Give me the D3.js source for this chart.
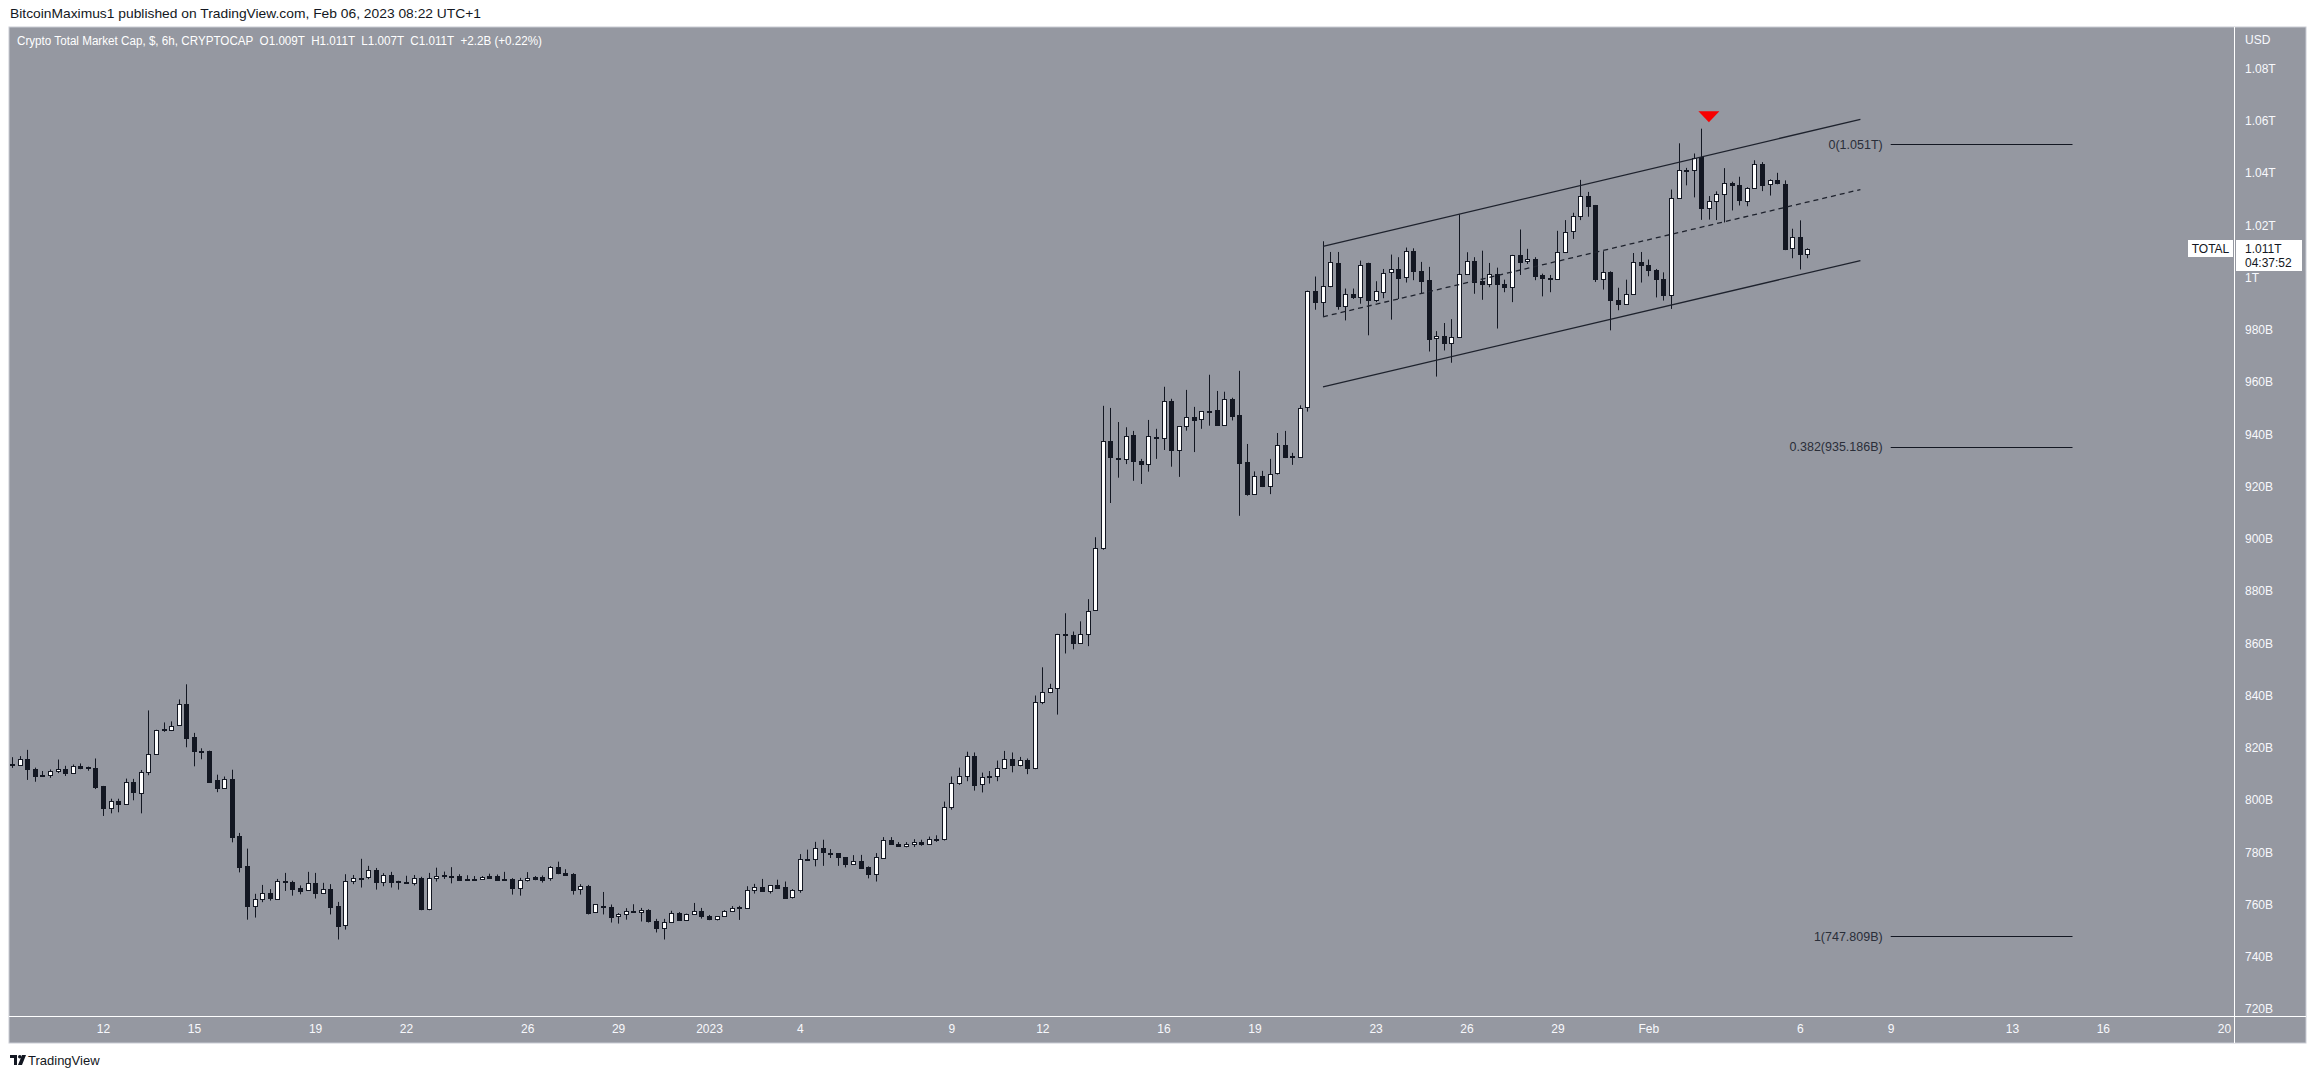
<!DOCTYPE html>
<html>
<head>
<meta charset="utf-8">
<script src="https://cdn.jsdelivr.net/npm/d3@7"></script>
<style>
  body { margin: 0; background: #ffffff; }
  svg text { font-family: "Liberation Sans", Arial, sans-serif; }
</style>
</head>
<body>
<div id="chart"></div>
<script>
// 6h candles, O H L C in billions of USD, first one Dec 9 2022 00:00 UTC
const candles = [
  [813.8, 816.4, 812.3, 813.3], [813.4, 816.8, 813.1, 815.7], [815.7, 819.2, 807.7, 811.9], [811.9, 812.4, 807.0, 809.2],
  [809.6, 811.1, 809.2, 809.4], [809.6, 811.7, 808.5, 811.0], [811.1, 815.5, 810.3, 811.9], [812.0, 813.1, 809.2, 810.3],
  [810.4, 813.6, 810.0, 813.2], [813.2, 814.0, 811.8, 812.3], [812.5, 812.8, 811.2, 812.3], [812.4, 815.9, 804.2, 805.3],
  [805.4, 805.4, 793.9, 796.9], [797.1, 800.5, 794.9, 799.6], [799.6, 800.5, 795.3, 798.5], [798.5, 808.2, 798.5, 807.0],
  [807.0, 808.1, 799.9, 803.0], [802.7, 811.5, 794.9, 810.8], [810.8, 834.3, 809.5, 817.7], [817.7, 826.9, 817.7, 826.9],
  [826.9, 829.7, 826.1, 827.0], [826.7, 830.1, 826.4, 828.4], [828.4, 838.5, 828.4, 836.6], [836.6, 844.3, 820.2, 823.7],
  [824.2, 825.7, 812.9, 818.8], [818.8, 819.8, 815.6, 818.7], [818.9, 818.9, 806.8, 807.2], [807.8, 809.7, 803.0, 804.9],
  [804.9, 809.0, 804.5, 808.2], [808.2, 811.6, 783.8, 786.1], [786.3, 787.4, 772.3, 774.6], [774.7, 781.4, 754.2, 759.2],
  [759.4, 764.1, 755.0, 762.0], [761.9, 767.5, 760.9, 764.3], [764.3, 765.9, 761.5, 762.3], [762.4, 769.8, 761.9, 769.1],
  [769.0, 772.1, 765.2, 768.8], [768.7, 769.1, 763.4, 766.1], [766.4, 767.3, 763.9, 765.2], [765.5, 772.5, 765.2, 768.2],
  [768.3, 772.1, 762.3, 764.3], [764.3, 768.3, 764.1, 765.9], [765.9, 767.8, 756.2, 759.2], [759.5, 761.0, 746.6, 751.9],
  [751.9, 771.6, 750.4, 768.9], [768.9, 771.3, 767.8, 770.0], [770.0, 777.5, 766.5, 770.1], [770.5, 774.8, 769.7, 773.2],
  [773.2, 774.0, 765.7, 768.6], [768.6, 772.0, 767.0, 771.3], [771.3, 772.5, 766.5, 768.6], [768.9, 769.1, 765.7, 768.8],
  [768.6, 771.0, 768.2, 768.2], [768.2, 771.3, 767.3, 770.1], [770.1, 770.6, 757.8, 758.1], [758.2, 772.1, 757.8, 770.1],
  [770.5, 774.1, 768.8, 771.1], [771.1, 772.6, 769.8, 771.2], [771.1, 774.3, 768.1, 771.0], [770.9, 771.6, 769.1, 769.3],
  [769.8, 771.2, 769.1, 769.3], [769.6, 770.9, 769.3, 769.7], [769.7, 770.9, 769.6, 770.6], [771.0, 771.8, 770.0, 770.2],
  [771.1, 771.5, 769.3, 769.6], [769.7, 772.5, 769.3, 769.6], [769.8, 770.1, 763.8, 766.3], [766.3, 770.2, 763.4, 769.5],
  [769.3, 772.4, 768.8, 770.1], [770.5, 770.9, 769.3, 769.8], [770.6, 771.1, 768.4, 769.6], [770.1, 774.7, 769.1, 774.3],
  [774.3, 776.4, 771.6, 771.9], [772.0, 773.5, 771.2, 771.4], [771.8, 772.0, 763.8, 765.7], [765.7, 767.8, 763.8, 767.0],
  [767.0, 767.5, 756.2, 756.8], [757.1, 760.1, 757.1, 760.1], [759.6, 764.8, 756.2, 759.5], [759.1, 760.0, 753.1, 755.4],
  [755.5, 756.7, 752.7, 756.3], [756.3, 758.6, 754.2, 757.4], [757.4, 760.1, 756.9, 757.2], [756.9, 758.7, 753.5, 757.8],
  [757.8, 758.2, 753.1, 753.5], [753.6, 754.5, 749.3, 750.8], [750.9, 754.5, 746.6, 753.2], [753.2, 757.6, 753.2, 756.7],
  [756.7, 757.1, 754.0, 754.0], [754.0, 756.5, 754.0, 756.3], [756.3, 760.6, 756.3, 757.4], [757.4, 758.7, 754.6, 755.4],
  [755.6, 756.0, 754.0, 754.4], [754.4, 755.5, 753.9, 755.5], [755.5, 757.8, 755.5, 757.4], [757.4, 759.4, 757.4, 758.6],
  [759.1, 759.5, 754.1, 758.7], [758.8, 767.0, 758.4, 765.5], [765.5, 767.9, 764.2, 766.6], [766.6, 769.8, 765.0, 765.0],
  [765.1, 767.4, 764.2, 767.4], [767.4, 769.5, 766.0, 766.4], [766.8, 768.8, 762.3, 762.7], [762.7, 765.9, 762.3, 765.5],
  [765.5, 779.3, 764.5, 777.3], [777.3, 781.0, 776.7, 777.4], [777.3, 784.0, 774.6, 781.5], [781.5, 784.8, 774.8, 779.9],
  [779.9, 781.2, 777.8, 779.8], [779.7, 779.7, 774.8, 778.0], [778.1, 778.1, 774.2, 775.3], [775.3, 778.9, 775.3, 776.5],
  [776.7, 779.0, 773.8, 774.1], [774.3, 774.6, 770.0, 771.5], [771.5, 779.7, 768.8, 778.0], [778.0, 785.8, 778.0, 784.7],
  [784.7, 785.8, 783.0, 783.0], [783.1, 783.9, 782.2, 782.2], [782.2, 783.9, 781.9, 783.1], [783.1, 785.0, 782.0, 783.8],
  [783.8, 784.8, 782.5, 783.2], [783.2, 786.0, 782.8, 785.0], [785.0, 786.5, 784.0, 785.2], [785.2, 799.4, 784.5, 797.3],
  [797.2, 809.0, 796.3, 806.5], [806.4, 812.4, 805.8, 809.2], [809.2, 818.5, 807.2, 817.0], [817.0, 818.2, 803.6, 806.0],
  [806.0, 810.5, 802.9, 808.8], [809.0, 811.1, 806.3, 809.1], [809.1, 815.1, 807.2, 812.3], [812.3, 818.8, 812.3, 815.7],
  [815.7, 818.2, 810.6, 813.3], [813.3, 816.5, 812.9, 815.3], [815.3, 815.9, 809.9, 812.2], [812.3, 840.0, 811.8, 837.6],
  [837.5, 850.8, 836.7, 841.3], [841.3, 844.5, 840.9, 842.9], [842.9, 863.6, 832.7, 863.6], [863.5, 871.5, 856.1, 863.4],
  [863.3, 864.5, 857.7, 860.1], [860.1, 868.4, 860.1, 863.6], [863.6, 876.9, 858.9, 872.5], [872.5, 900.6, 872.5, 896.3],
  [896.2, 950.9, 895.8, 937.3], [937.3, 950.1, 913.7, 931.0], [930.9, 944.7, 923.4, 930.8], [930.7, 942.7, 928.6, 939.5],
  [939.6, 941.3, 922.2, 929.5], [929.7, 930.6, 921.0, 928.4], [928.5, 945.5, 925.7, 939.2], [939.0, 942.1, 930.6, 938.9],
  [938.4, 958.2, 934.0, 952.7], [952.7, 953.6, 927.6, 933.8], [933.9, 943.1, 923.7, 943.1], [943.1, 957.0, 941.4, 946.5],
  [946.5, 950.5, 933.2, 945.4], [945.6, 948.8, 942.1, 948.8], [948.9, 962.8, 943.3, 948.8], [949.2, 956.6, 943.3, 943.3],
  [943.3, 956.3, 943.3, 953.4], [953.6, 954.0, 945.3, 947.2], [947.3, 964.3, 908.8, 929.1], [929.3, 936.3, 916.5, 916.9],
  [917.0, 925.8, 916.8, 923.9], [923.9, 926.0, 919.8, 920.2], [920.3, 930.6, 917.1, 924.9], [924.9, 940.5, 924.6, 935.8],
  [935.8, 941.3, 930.9, 931.3], [931.5, 932.9, 928.3, 931.6], [931.6, 951.1, 931.3, 950.2], [950.2, 995.0, 948.7, 994.7],
  [994.7, 1000.4, 987.7, 990.6], [990.6, 1013.9, 985.2, 996.7], [996.7, 1009.8, 996.3, 1005.9], [1005.6, 1009.8, 987.7, 989.0],
  [989.0, 995.8, 983.6, 993.6], [993.7, 995.8, 991.8, 992.4], [992.6, 1006.5, 990.0, 1004.9], [1005.4, 1005.7, 977.9, 991.3],
  [991.4, 998.6, 990.6, 994.7], [994.7, 1003.3, 992.1, 1001.8], [1002.2, 1008.8, 983.9, 1003.2], [1003.4, 1007.8, 991.8, 1000.1],
  [1000.2, 1011.5, 998.1, 1010.2], [1010.2, 1011.2, 999.0, 1002.4], [1002.4, 1006.0, 993.8, 998.4], [999.1, 1004.1, 971.7, 976.7],
  [976.7, 979.5, 962.1, 977.5], [977.6, 982.6, 972.1, 974.8], [974.8, 984.1, 967.4, 977.2], [977.2, 1024.2, 976.9, 1001.4],
  [1001.4, 1009.7, 1001.2, 1006.4], [1006.4, 1007.8, 993.8, 998.2], [998.7, 1010.3, 991.5, 997.5], [997.5, 1005.6, 996.3, 1001.4],
  [1001.4, 1003.8, 980.5, 997.5], [997.5, 999.2, 994.4, 996.4], [996.4, 1008.7, 990.6, 1008.7], [1008.7, 1018.4, 1001.0, 1006.2],
  [1006.2, 1011.0, 1005.2, 1007.0], [1007.1, 1007.8, 999.0, 1000.5], [1001.0, 1001.5, 992.8, 999.7], [999.9, 1001.0, 994.4, 999.5],
  [999.5, 1017.9, 999.3, 1009.7], [1009.7, 1022.0, 1009.5, 1017.4], [1017.6, 1024.8, 1014.8, 1023.5], [1023.5, 1037.4, 1022.0, 1031.2],
  [1031.3, 1032.8, 1023.3, 1027.3], [1027.6, 1027.8, 998.3, 999.2], [999.3, 1010.1, 995.4, 1002.0], [1002.2, 1002.4, 979.8, 991.3],
  [991.4, 996.1, 987.5, 989.8], [989.8, 999.2, 989.6, 993.6], [993.7, 1009.4, 993.5, 1005.9], [1006.0, 1009.8, 998.1, 1004.7],
  [1005.0, 1006.9, 1000.5, 1002.9], [1002.8, 1003.3, 992.4, 999.5], [999.5, 1002.0, 991.2, 993.2], [993.2, 1033.7, 988.0, 1030.5],
  [1030.4, 1051.4, 1030.2, 1041.0], [1041.0, 1042.0, 1035.3, 1041.2], [1041.2, 1047.5, 1030.7, 1045.8], [1046.0, 1057.0, 1022.1, 1026.6],
  [1026.6, 1031.2, 1022.2, 1029.4], [1029.4, 1033.0, 1022.0, 1031.9], [1031.9, 1041.9, 1021.1, 1036.3], [1036.3, 1036.7, 1025.7, 1035.5],
  [1035.5, 1038.6, 1027.6, 1029.6], [1029.6, 1034.6, 1027.3, 1034.4], [1034.4, 1044.9, 1034.0, 1043.6], [1043.3, 1044.2, 1033.1, 1035.4],
  [1035.5, 1037.6, 1031.4, 1037.2], [1037.2, 1040.1, 1035.7, 1035.9], [1035.9, 1037.2, 1010.5, 1011.2], [1011.2, 1018.7, 1007.4, 1015.6],
  [1015.6, 1021.9, 1003.1, 1009.1], [1009.0, 1011.2, 1007.4, 1011.1]
];
const firstCandle = Date.UTC(2022, 11, 9, 0);
const candleStep = 6 * 3600 * 1000;

const priceTicks = [720, 740, 760, 780, 800, 820, 840, 860, 880, 900, 920, 940, 960, 980, 1000, 1020, 1040, 1060, 1080];
const priceTickLabels = ['720B', '740B', '760B', '780B', '800B', '820B', '840B', '860B', '880B', '900B', '920B', '940B',
  '960B', '980B', '1T', '1.02T', '1.04T', '1.06T', '1.08T'];

const dateTicks = ['2022-12-12', '2022-12-15', '2022-12-19', '2022-12-22', '2022-12-26', '2022-12-29', '2023-01-01',
  '2023-01-04', '2023-01-09', '2023-01-12', '2023-01-16', '2023-01-19', '2023-01-23', '2023-01-26', '2023-01-29',
  '2023-02-01', '2023-02-06', '2023-02-09', '2023-02-13', '2023-02-16', '2023-02-20'];
const dateTickLabels = ['12', '15', '19', '22', '26', '29', '2023', '4', '9', '12', '16', '19', '23', '26', '29',
  'Feb', '6', '9', '13', '16', '20'];

// ascending channel: start / end time and the price of each rail
const channelTimes = ['2023-01-21T06:20Z', '2023-02-08T00:00Z'];
const channelUpper = [1011.9, 1060.6];
const channelMiddle = [985.0, 1033.7];
const channelLower = [958.2, 1006.5];

// fib retracement levels
const fibLabels = ['0(1.051T)', '0.382(935.186B)', '1(747.809B)'];
const fibPrices = [1051.0, 935.186, 747.809];
const fibTimes = ['2023-02-09T00:00Z', '2023-02-15T00:00Z'];

const topMarker = { time: '2023-02-03T00:00Z', price: 1059.5 };
const lastPrice = 1011;

const W = 2314, H = 1079;
const pane = { left: 9, top: 27, right: 2234, bottom: 1016, outerRight: 2306, outerBottom: 1043 };
const bg = '#9598a1', ink = '#131722';

const svg = d3.select('#chart').append('svg')
  .attr('width', W)
  .attr('height', H);

const x = d3.scaleUtc()
  .domain([new Date('2023-01-01T00:00Z'), new Date('2023-02-20T00:00Z')])
  .range([709, 2224]);

const y = d3.scaleLinear()
  .domain([720, 1080])
  .range([1009, 68.6]);

// header
svg.append('text')
  .attr('x', 10).attr('y', 13).attr('dy', '0.35em')
  .attr('textLength', 471).attr('lengthAdjust', 'spacingAndGlyphs')
  .style('font-size', '13.5px').style('fill', ink)
  .text('BitcoinMaximus1 published on TradingView.com, Feb 06, 2023 08:22 UTC+1');

// pane background
svg.append('rect')
  .attr('x', pane.left).attr('y', pane.top)
  .attr('width', pane.outerRight - pane.left).attr('height', pane.outerBottom - pane.top)
  .style('fill', bg).style('stroke', '#c9ccd4').style('stroke-width', 1);

svg.append('line')
  .attr('x1', pane.right + 0.5).attr('x2', pane.right + 0.5)
  .attr('y1', pane.top).attr('y2', pane.outerBottom)
  .style('stroke', '#ffffff');
svg.append('line')
  .attr('x1', pane.left).attr('x2', pane.outerRight)
  .attr('y1', pane.bottom + 0.5).attr('y2', pane.bottom + 0.5)
  .style('stroke', '#ffffff');

svg.append('text')
  .attr('x', 17).attr('y', 41).attr('dy', '0.35em')
  .attr('textLength', 525).attr('lengthAdjust', 'spacingAndGlyphs')
  .style('font-size', '12.5px').style('fill', '#ffffff').style('white-space', 'pre')
  .text('Crypto Total Market Cap, $, 6h, CRYPTOCAP  O1.009T  H1.011T  L1.007T  C1.011T  +2.2B (+0.22%)');

svg.append('clipPath').attr('id', 'clip')
  .append('rect')
  .attr('x', pane.left).attr('y', pane.top)
  .attr('width', pane.right - pane.left).attr('height', pane.bottom - pane.top);

const plot = svg.append('g').attr('clip-path', 'url(#clip)');

// candles
const rows = candles.map((c, i) => ({ t: new Date(firstCandle + i * candleStep), o: c[0], h: c[1], l: c[2], c: c[3] }));
const cx = d => Math.round(x(d.t));

const candle = plot.selectAll('.candle')
  .data(rows)
  .enter()
  .append('g')
  .attr('class', 'candle');

candle.append('line')
  .attr('x1', d => cx(d) + 0.5).attr('x2', d => cx(d) + 0.5)
  .attr('y1', d => y(d.h)).attr('y2', d => y(d.l))
  .style('stroke', ink).style('stroke-width', 1);

candle.append('rect')
  .attr('x', d => cx(d) - 1.5)
  .attr('width', 4)
  .attr('y', d => Math.round(y(Math.max(d.o, d.c))) + 0.5)
  .attr('height', d => Math.max(1, Math.round(Math.abs(y(d.o) - y(d.c)))))
  .style('fill', d => d.c < d.o ? ink : '#ffffff')
  .style('stroke', ink).style('stroke-width', 1);

// channel
const channelLine = d3.line()
  .x(d => x(new Date(d[0])))
  .y(d => y(d[1]));
[[channelUpper, null], [channelMiddle, '5,4'], [channelLower, null]].forEach(([rail, dash]) => {
  plot.append('path')
    .datum(channelTimes.map((t, i) => [t, rail[i]]))
    .attr('d', channelLine)
    .style('fill', 'none')
    .style('stroke', '#1e222d')
    .style('stroke-width', 1.3)
    .style('stroke-dasharray', dash);
});

// fib levels
const fib = plot.selectAll('.fib')
  .data(fibPrices.map((p, i) => ({ p, label: fibLabels[i] })))
  .enter()
  .append('g')
  .attr('class', 'fib');
fib.append('line')
  .attr('x1', x(new Date(fibTimes[0]))).attr('x2', x(new Date(fibTimes[1])))
  .attr('y1', d => Math.round(y(d.p)) + 0.5).attr('y2', d => Math.round(y(d.p)) + 0.5)
  .style('stroke', ink).style('stroke-width', 1.2);
fib.append('text')
  .attr('x', x(new Date(fibTimes[0])) - 8)
  .attr('y', d => y(d.p)).attr('dy', '0.35em')
  .attr('text-anchor', 'end')
  .style('font-size', '12.5px').style('fill', '#2a2e39')
  .text(d => d.label);

// red marker above the top
const mx = x(new Date(topMarker.time)), my = y(topMarker.price);
plot.append('path')
  .attr('d', `M${mx - 10.5},${my - 11} L${mx + 10.5},${my - 11} L${mx},${my} Z`)
  .style('fill', '#f70000');

// price axis
const yAxis = d3.axisRight(y)
  .tickValues(priceTicks)
  .tickFormat((d, i) => priceTickLabels[i])
  .tickSize(0)
  .tickPadding(11);
const yAxisG = svg.append('g')
  .attr('transform', `translate(${pane.right}, 0)`)
  .call(yAxis);
yAxisG.select('.domain').remove();
yAxisG.selectAll('text').style('font-size', '12px').style('fill', '#f8f9fd').style('font-family', '"Liberation Sans", Arial, sans-serif');

svg.append('text')
  .attr('x', pane.right + 11).attr('y', 40).attr('dy', '0.35em')
  .style('font-size', '12px').style('fill', '#f8f9fd')
  .text('USD');

// time axis
const xAxis = d3.axisBottom(x)
  .tickValues(dateTicks.map(d => new Date(d + 'T00:00Z')))
  .tickFormat((d, i) => dateTickLabels[i])
  .tickSize(0)
  .tickPadding(8);
const xAxisG = svg.append('g')
  .attr('transform', `translate(0, ${pane.bottom})`)
  .call(xAxis);
xAxisG.select('.domain').remove();
xAxisG.selectAll('text').style('font-size', '12px').style('fill', '#f8f9fd').style('font-family', '"Liberation Sans", Arial, sans-serif');

// last price tag
const py = y(lastPrice);
svg.append('rect')
  .attr('x', pane.right + 2).attr('y', Math.round(py) - 9)
  .attr('width', 66).attr('height', 31)
  .style('fill', '#ffffff');
svg.append('text')
  .attr('x', pane.right + 11).attr('y', py).attr('dy', '0.35em')
  .style('font-size', '12px').style('fill', ink)
  .text('1.011T');
svg.append('text')
  .attr('x', pane.right + 11).attr('y', py + 14).attr('dy', '0.35em')
  .style('font-size', '12px').style('fill', ink)
  .text('04:37:52');

svg.append('rect')
  .attr('x', pane.right - 46).attr('y', Math.round(py) - 9)
  .attr('width', 45).attr('height', 17)
  .style('fill', '#ffffff');
svg.append('text')
  .attr('x', pane.right - 23.5).attr('y', py).attr('dy', '0.35em')
  .attr('text-anchor', 'middle')
  .style('font-size', '12px').style('fill', ink)
  .text('TOTAL');

// footer logo
const logo = svg.append('g').attr('transform', 'translate(10, 1055)').style('fill', ink);
logo.append('path').attr('d', 'M0,0 H7 V10 H4 V3 H0 Z');
logo.append('circle').attr('cx', 9.8).attr('cy', 1.8).attr('r', 1.8);
logo.append('path').attr('d', 'M12,0 H16 L12,10 H8 Z');
svg.append('text')
  .attr('x', 28).attr('y', 1060).attr('dy', '0.35em')
  .style('font-size', '13px').style('fill', ink)
  .text('TradingView');
</script>
</body>
</html>
